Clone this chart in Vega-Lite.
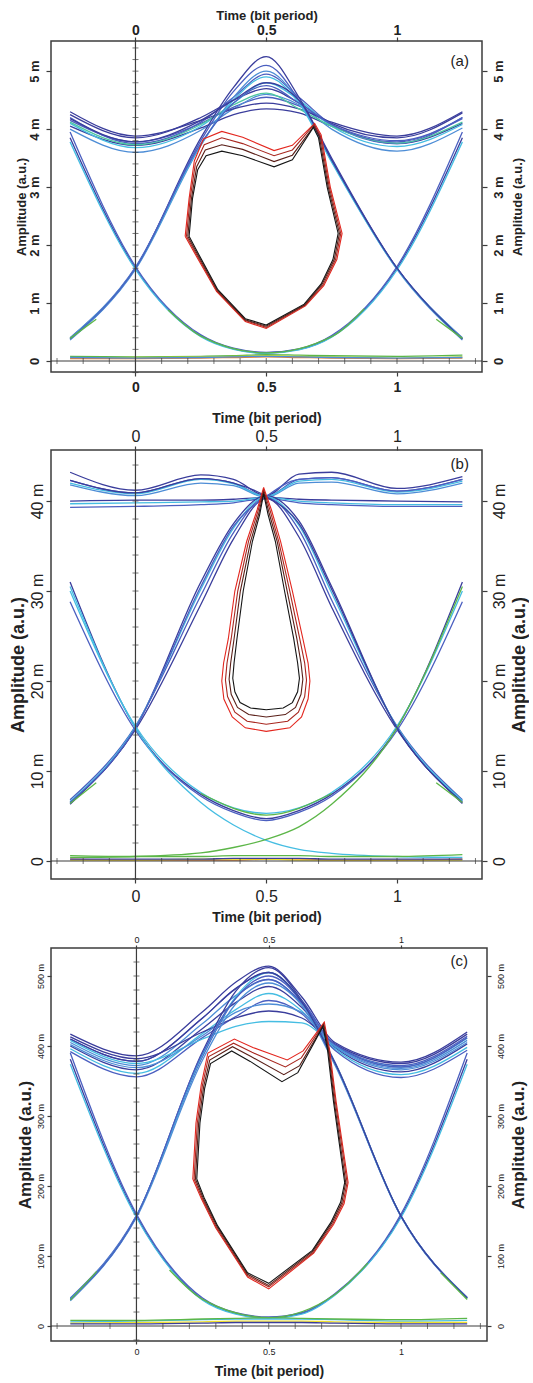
{
"$schema":"https://vega.github.io/schema/vega-lite/v6.json",
"padding":{"left":8,"top":8,"right":0,"bottom":0},
"background":"white",
"config":{"view":{"stroke":"#3c3c3c","strokeWidth":1.5},"font":"Liberation Sans","axis":{"grid":false,"domain":false,"tickColor":"#3c3c3c","tickWidth":1.2,"labelColor":"#222","titleColor":"#222","labelFont":"Liberation Sans","titleFont":"Liberation Sans","titleFontWeight":"bold"}},
"datasets":{
"a":[
{"i":1,"t":-0.25,"v":4.05},{"i":1,"t":0,"v":3.72},{"i":1,"t":0.25,"v":4.02},{"i":1,"t":0.375,"v":4.25},{"i":1,"t":0.5,"v":4.35},{"i":1,"t":0.625,"v":4.28},{"i":1,"t":0.75,"v":4.05},{"i":1,"t":1,"v":3.75},{"i":1,"t":1.25,"v":4.1},
{"i":2,"t":-0.25,"v":4.15},{"i":2,"t":0,"v":3.78},{"i":2,"t":0.25,"v":4.1},{"i":2,"t":0.375,"v":4.38},{"i":2,"t":0.5,"v":4.55},{"i":2,"t":0.625,"v":4.4},{"i":2,"t":0.75,"v":4.08},{"i":2,"t":1,"v":3.8},{"i":2,"t":1.25,"v":4.18},
{"i":3,"t":-0.25,"v":4.25},{"i":3,"t":0,"v":3.85},{"i":3,"t":0.25,"v":4.2},{"i":3,"t":0.375,"v":4.5},{"i":3,"t":0.5,"v":4.7},{"i":3,"t":0.625,"v":4.45},{"i":3,"t":0.75,"v":4.1},{"i":3,"t":1,"v":3.85},{"i":3,"t":1.25,"v":4.28},
{"i":4,"t":-0.25,"v":4.1},{"i":4,"t":0,"v":3.68},{"i":4,"t":0.25,"v":4.05},{"i":4,"t":0.375,"v":4.45},{"i":4,"t":0.5,"v":4.8},{"i":4,"t":0.625,"v":4.5},{"i":4,"t":0.75,"v":4.05},{"i":4,"t":1,"v":3.7},{"i":4,"t":1.25,"v":4.08},
{"i":5,"t":-0.25,"v":4.2},{"i":5,"t":0,"v":3.75},{"i":5,"t":0.25,"v":4.12},{"i":5,"t":0.375,"v":4.55},{"i":5,"t":0.5,"v":4.95},{"i":5,"t":0.625,"v":4.55},{"i":5,"t":0.75,"v":4.08},{"i":5,"t":1,"v":3.75},{"i":5,"t":1.25,"v":4.2},
{"i":6,"t":-0.25,"v":4.0},{"i":6,"t":0,"v":3.6},{"i":6,"t":0.25,"v":3.98},{"i":6,"t":0.375,"v":4.35},{"i":6,"t":0.5,"v":4.6},{"i":6,"t":0.625,"v":4.42},{"i":6,"t":0.75,"v":4.0},{"i":6,"t":1,"v":3.62},{"i":6,"t":1.25,"v":4.02},
{"i":7,"t":-0.25,"v":4.3},{"i":7,"t":0,"v":3.88},{"i":7,"t":0.25,"v":4.15},{"i":7,"t":0.375,"v":4.35},{"i":7,"t":0.5,"v":4.45},{"i":7,"t":0.625,"v":4.35},{"i":7,"t":0.75,"v":4.12},{"i":7,"t":1,"v":3.88},{"i":7,"t":1.25,"v":4.3},
{"i":8,"t":-0.25,"v":4.12},{"i":8,"t":0,"v":3.73},{"i":8,"t":0.25,"v":4.08},{"i":8,"t":0.375,"v":4.42},{"i":8,"t":0.5,"v":4.62},{"i":8,"t":0.625,"v":4.35},{"i":8,"t":0.75,"v":4.05},{"i":8,"t":1,"v":3.76},{"i":8,"t":1.25,"v":4.12},
{"i":9,"t":-0.25,"v":0.38},{"i":9,"t":0,"v":1.6},{"i":9,"t":0.25,"v":3.85},{"i":9,"t":0.375,"v":4.72},{"i":9,"t":0.5,"v":5.25},{"i":9,"t":0.625,"v":4.55},{"i":9,"t":0.75,"v":3.5},{"i":9,"t":1,"v":1.6},{"i":9,"t":1.25,"v":0.38},
{"i":10,"t":-0.25,"v":0.4},{"i":10,"t":0,"v":1.62},{"i":10,"t":0.25,"v":3.8},{"i":10,"t":0.375,"v":4.65},{"i":10,"t":0.5,"v":5.1},{"i":10,"t":0.625,"v":4.5},{"i":10,"t":0.75,"v":3.47},{"i":10,"t":1,"v":1.6},{"i":10,"t":1.25,"v":0.4},
{"i":11,"t":-0.25,"v":0.36},{"i":11,"t":0,"v":1.58},{"i":11,"t":0.25,"v":3.72},{"i":11,"t":0.375,"v":4.55},{"i":11,"t":0.5,"v":5.0},{"i":11,"t":0.625,"v":4.48},{"i":11,"t":0.75,"v":3.45},{"i":11,"t":1,"v":1.58},{"i":11,"t":1.25,"v":0.36},
{"i":12,"t":-0.25,"v":0.39},{"i":12,"t":0,"v":1.6},{"i":12,"t":0.25,"v":3.73},{"i":12,"t":0.375,"v":4.5},{"i":12,"t":0.5,"v":4.9},{"i":12,"t":0.625,"v":4.45},{"i":12,"t":0.75,"v":3.43},{"i":12,"t":1,"v":1.59},{"i":12,"t":1.25,"v":0.39},
{"i":13,"t":-0.25,"v":3.85},{"i":13,"t":0,"v":1.6},{"i":13,"t":0.25,"v":0.43},{"i":13,"t":0.375,"v":0.21},{"i":13,"t":0.5,"v":0.14},{"i":13,"t":0.625,"v":0.2},{"i":13,"t":0.75,"v":0.42},{"i":13,"t":1,"v":1.6},{"i":13,"t":1.25,"v":3.85},
{"i":14,"t":-0.25,"v":3.95},{"i":14,"t":0,"v":1.63},{"i":14,"t":0.25,"v":0.45},{"i":14,"t":0.375,"v":0.22},{"i":14,"t":0.5,"v":0.15},{"i":14,"t":0.625,"v":0.21},{"i":14,"t":0.75,"v":0.44},{"i":14,"t":1,"v":1.63},{"i":14,"t":1.25,"v":3.95},
{"i":15,"t":-0.25,"v":3.78},{"i":15,"t":0,"v":1.58},{"i":15,"t":0.25,"v":0.42},{"i":15,"t":0.375,"v":0.2},{"i":15,"t":0.5,"v":0.13},{"i":15,"t":0.625,"v":0.19},{"i":15,"t":0.75,"v":0.41},{"i":15,"t":1,"v":1.57},{"i":15,"t":1.25,"v":3.78},
{"i":16,"t":-0.25,"v":0.38},{"i":16,"t":0,"v":1.6},{"i":16,"t":0.25,"v":3.75},{"i":16,"t":0.375,"v":4.45},{"i":16,"t":0.5,"v":4.75},{"i":16,"t":0.625,"v":4.45},{"i":16,"t":0.75,"v":4.08},{"i":16,"t":1,"v":3.78},{"i":16,"t":1.25,"v":4.2},
{"i":17,"t":-0.25,"v":4.18},{"i":17,"t":0,"v":3.78},{"i":17,"t":0.25,"v":4.15},{"i":17,"t":0.375,"v":4.5},{"i":17,"t":0.5,"v":4.8},{"i":17,"t":0.625,"v":4.5},{"i":17,"t":0.75,"v":3.47},{"i":17,"t":1,"v":1.6},{"i":17,"t":1.25,"v":0.38},
{"i":18,"t":-0.25,"v":0.08},{"i":18,"t":0,"v":0.07},{"i":18,"t":0.25,"v":0.08},{"i":18,"t":0.375,"v":0.09},{"i":18,"t":0.5,"v":0.11},{"i":18,"t":0.625,"v":0.1},{"i":18,"t":0.75,"v":0.09},{"i":18,"t":1,"v":0.08},{"i":18,"t":1.25,"v":0.1},
{"i":19,"t":-0.25,"v":0.05},{"i":19,"t":0,"v":0.06},{"i":19,"t":0.25,"v":0.07},{"i":19,"t":0.375,"v":0.08},{"i":19,"t":0.5,"v":0.09},{"i":19,"t":0.625,"v":0.08},{"i":19,"t":0.75,"v":0.07},{"i":19,"t":1,"v":0.05},{"i":19,"t":1.25,"v":0.07},
{"i":20,"t":-0.25,"v":0.04},{"i":20,"t":0,"v":0.04},{"i":20,"t":0.25,"v":0.05},{"i":20,"t":0.375,"v":0.06},{"i":20,"t":0.5,"v":0.07},{"i":20,"t":0.625,"v":0.06},{"i":20,"t":0.75,"v":0.05},{"i":20,"t":1,"v":0.04},{"i":20,"t":1.25,"v":0.05},
{"i":21,"t":-0.25,"v":0.06},{"i":21,"t":0,"v":0.05},{"i":21,"t":0.25,"v":0.06},{"i":21,"t":0.375,"v":0.07},{"i":21,"t":0.5,"v":0.08},{"i":21,"t":0.625,"v":0.07},{"i":21,"t":0.75,"v":0.06},{"i":21,"t":1,"v":0.05},{"i":21,"t":1.25,"v":0.06},
{"i":22,"t":0.125,"v":0.88},{"i":22,"t":0.25,"v":0.43},{"i":22,"t":0.5,"v":0.14},{"i":22,"t":0.75,"v":0.42},{"i":22,"t":0.875,"v":0.9},
{"i":23,"t":-0.25,"v":0.39},{"i":23,"t":-0.15,"v":0.72},
{"i":24,"t":1.15,"v":0.72},{"i":24,"t":1.25,"v":0.39}
],
"am":[
{"c":"m0","t":0.19,"v":2.15},{"c":"m0","t":0.205,"v":2.8},{"c":"m0","t":0.225,"v":3.45},{"c":"m0","t":0.26,"v":3.83},{"c":"m0","t":0.33,"v":3.96},{"c":"m0","t":0.41,"v":3.86},{"c":"m0","t":0.53,"v":3.63},{"c":"m0","t":0.6,"v":3.72},{"c":"m0","t":0.685,"v":4.1},{"c":"m0","t":0.71,"v":3.9},{"c":"m0","t":0.745,"v":3.0},{"c":"m0","t":0.79,"v":2.2},{"c":"m0","t":0.77,"v":1.75},{"c":"m0","t":0.72,"v":1.3},{"c":"m0","t":0.65,"v":0.95},{"c":"m0","t":0.5,"v":0.56},{"c":"m0","t":0.42,"v":0.68},{"c":"m0","t":0.31,"v":1.2},{"c":"m0","t":0.24,"v":1.75},{"c":"m0","t":0.19,"v":2.15},
{"c":"m1","t":0.195,"v":2.15},{"c":"m1","t":0.209,"v":2.8},{"c":"m1","t":0.229,"v":3.4},{"c":"m1","t":0.263,"v":3.73},{"c":"m1","t":0.33,"v":3.85},{"c":"m1","t":0.41,"v":3.75},{"c":"m1","t":0.53,"v":3.54},{"c":"m1","t":0.6,"v":3.64},{"c":"m1","t":0.683,"v":4.08},{"c":"m1","t":0.707,"v":3.88},{"c":"m1","t":0.741,"v":3.0},{"c":"m1","t":0.785,"v":2.2},{"c":"m1","t":0.765,"v":1.75},{"c":"m1","t":0.717,"v":1.31},{"c":"m1","t":0.648,"v":0.96},{"c":"m1","t":0.5,"v":0.58},{"c":"m1","t":0.42,"v":0.7},{"c":"m1","t":0.312,"v":1.21},{"c":"m1","t":0.243,"v":1.76},{"c":"m1","t":0.195,"v":2.15},
{"c":"m2","t":0.2,"v":2.15},{"c":"m2","t":0.214,"v":2.8},{"c":"m2","t":0.234,"v":3.35},{"c":"m2","t":0.267,"v":3.64},{"c":"m2","t":0.33,"v":3.73},{"c":"m2","t":0.41,"v":3.65},{"c":"m2","t":0.53,"v":3.44},{"c":"m2","t":0.6,"v":3.55},{"c":"m2","t":0.682,"v":4.05},{"c":"m2","t":0.703,"v":3.87},{"c":"m2","t":0.737,"v":3.0},{"c":"m2","t":0.78,"v":2.2},{"c":"m2","t":0.76,"v":1.75},{"c":"m2","t":0.713,"v":1.32},{"c":"m2","t":0.647,"v":0.97},{"c":"m2","t":0.5,"v":0.6},{"c":"m2","t":0.42,"v":0.71},{"c":"m2","t":0.313,"v":1.22},{"c":"m2","t":0.247,"v":1.76},{"c":"m2","t":0.2,"v":2.15},
{"c":"m4","t":0.205,"v":2.15},{"c":"m4","t":0.218,"v":2.8},{"c":"m4","t":0.238,"v":3.3},{"c":"m4","t":0.27,"v":3.54},{"c":"m4","t":0.33,"v":3.62},{"c":"m4","t":0.41,"v":3.54},{"c":"m4","t":0.53,"v":3.35},{"c":"m4","t":0.6,"v":3.47},{"c":"m4","t":0.68,"v":4.03},{"c":"m4","t":0.7,"v":3.85},{"c":"m4","t":0.733,"v":3.0},{"c":"m4","t":0.775,"v":2.2},{"c":"m4","t":0.755,"v":1.75},{"c":"m4","t":0.71,"v":1.33},{"c":"m4","t":0.645,"v":0.98},{"c":"m4","t":0.5,"v":0.62},{"c":"m4","t":0.42,"v":0.73},{"c":"m4","t":0.315,"v":1.23},{"c":"m4","t":0.25,"v":1.77},{"c":"m4","t":0.205,"v":2.15}
],
"b":[
{"i":1,"t":-0.25,"v":43.2},{"i":1,"t":0,"v":41.2},{"i":1,"t":0.25,"v":42.9},{"i":1,"t":0.375,"v":42.4},{"i":1,"t":0.5,"v":40.6},{"i":1,"t":0.625,"v":43.0},{"i":1,"t":0.75,"v":43.2},{"i":1,"t":1,"v":41.4},{"i":1,"t":1.25,"v":42.7},
{"i":2,"t":-0.25,"v":42.3},{"i":2,"t":0,"v":40.9},{"i":2,"t":0.25,"v":42.5},{"i":2,"t":0.375,"v":42.0},{"i":2,"t":0.5,"v":40.5},{"i":2,"t":0.625,"v":42.4},{"i":2,"t":0.75,"v":42.6},{"i":2,"t":1,"v":41.1},{"i":2,"t":1.25,"v":42.4},
{"i":3,"t":-0.25,"v":41.8},{"i":3,"t":0,"v":40.6},{"i":3,"t":0.25,"v":42.0},{"i":3,"t":0.375,"v":41.7},{"i":3,"t":0.5,"v":40.4},{"i":3,"t":0.625,"v":42.0},{"i":3,"t":0.75,"v":42.1},{"i":3,"t":1,"v":40.8},{"i":3,"t":1.25,"v":42.0},
{"i":4,"t":-0.25,"v":42.0},{"i":4,"t":0,"v":40.8},{"i":4,"t":0.25,"v":42.4},{"i":4,"t":0.375,"v":41.9},{"i":4,"t":0.5,"v":40.5},{"i":4,"t":0.625,"v":42.2},{"i":4,"t":0.75,"v":42.4},{"i":4,"t":1,"v":41.0},{"i":4,"t":1.25,"v":42.2},
{"i":5,"t":-0.25,"v":40.0},{"i":5,"t":0,"v":40.1},{"i":5,"t":0.25,"v":40.1},{"i":5,"t":0.375,"v":40.2},{"i":5,"t":0.5,"v":40.4},{"i":5,"t":0.625,"v":40.2},{"i":5,"t":0.75,"v":40.1},{"i":5,"t":1,"v":40.0},{"i":5,"t":1.25,"v":39.9},
{"i":6,"t":-0.25,"v":39.3},{"i":6,"t":0,"v":39.4},{"i":6,"t":0.25,"v":39.6},{"i":6,"t":0.375,"v":39.8},{"i":6,"t":0.5,"v":40.3},{"i":6,"t":0.625,"v":39.8},{"i":6,"t":0.75,"v":39.6},{"i":6,"t":1,"v":39.4},{"i":6,"t":1.25,"v":39.4},
{"i":7,"t":-0.25,"v":39.7},{"i":7,"t":0,"v":39.8},{"i":7,"t":0.25,"v":39.9},{"i":7,"t":0.375,"v":40.0},{"i":7,"t":0.5,"v":40.4},{"i":7,"t":0.625,"v":40.0},{"i":7,"t":0.75,"v":39.8},{"i":7,"t":1,"v":39.6},{"i":7,"t":1.25,"v":39.6},
{"i":8,"t":-0.25,"v":6.5},{"i":8,"t":0,"v":14.8},{"i":8,"t":0.25,"v":31.0},{"i":8,"t":0.375,"v":37.5},{"i":8,"t":0.5,"v":40.6},{"i":8,"t":0.625,"v":37.8},{"i":8,"t":0.75,"v":30.5},{"i":8,"t":1,"v":14.8},{"i":8,"t":1.25,"v":6.6},
{"i":9,"t":-0.25,"v":6.8},{"i":9,"t":0,"v":15.0},{"i":9,"t":0.25,"v":29.5},{"i":9,"t":0.375,"v":36.5},{"i":9,"t":0.5,"v":40.4},{"i":9,"t":0.625,"v":36.8},{"i":9,"t":0.75,"v":29.0},{"i":9,"t":1,"v":15.0},{"i":9,"t":1.25,"v":6.8},
{"i":10,"t":-0.25,"v":6.3},{"i":10,"t":0,"v":14.6},{"i":10,"t":0.25,"v":28.5},{"i":10,"t":0.375,"v":35.8},{"i":10,"t":0.5,"v":40.3},{"i":10,"t":0.625,"v":36.0},{"i":10,"t":0.75,"v":28.2},{"i":10,"t":1,"v":14.6},{"i":10,"t":1.25,"v":6.4},
{"i":11,"t":-0.25,"v":6.6},{"i":11,"t":0,"v":14.9},{"i":11,"t":0.25,"v":30.2},{"i":11,"t":0.375,"v":37.0},{"i":11,"t":0.5,"v":40.5},{"i":11,"t":0.625,"v":37.3},{"i":11,"t":0.75,"v":29.8},{"i":11,"t":1,"v":14.9},{"i":11,"t":1.25,"v":6.7},
{"i":12,"t":-0.25,"v":31.0},{"i":12,"t":0,"v":14.8},{"i":12,"t":0.25,"v":7.4},{"i":12,"t":0.375,"v":5.6},{"i":12,"t":0.5,"v":4.7},{"i":12,"t":0.625,"v":5.6},{"i":12,"t":0.75,"v":7.4},{"i":12,"t":1,"v":14.8},{"i":12,"t":1.25,"v":31.0},
{"i":13,"t":-0.25,"v":28.8},{"i":13,"t":0,"v":14.5},{"i":13,"t":0.25,"v":7.2},{"i":13,"t":0.375,"v":5.4},{"i":13,"t":0.5,"v":4.5},{"i":13,"t":0.625,"v":5.4},{"i":13,"t":0.75,"v":7.2},{"i":13,"t":1,"v":14.5},{"i":13,"t":1.25,"v":28.8},
{"i":14,"t":-0.25,"v":30.0},{"i":14,"t":0,"v":15.0},{"i":14,"t":0.25,"v":7.6},{"i":14,"t":0.375,"v":5.9},{"i":14,"t":0.5,"v":5.3},{"i":14,"t":0.625,"v":5.9},{"i":14,"t":0.75,"v":7.6},{"i":14,"t":1,"v":15.0},{"i":14,"t":1.25,"v":30.0},
{"i":15,"t":-0.25,"v":30.5},{"i":15,"t":0,"v":14.8},{"i":15,"t":0.25,"v":6.5},{"i":15,"t":0.375,"v":4.0},{"i":15,"t":0.5,"v":2.3},{"i":15,"t":0.625,"v":1.3},{"i":15,"t":0.75,"v":0.85},{"i":15,"t":1,"v":0.5},{"i":15,"t":1.25,"v":0.4},
{"i":16,"t":-0.25,"v":0.4},{"i":16,"t":0,"v":0.5},{"i":16,"t":0.25,"v":0.9},{"i":16,"t":0.375,"v":1.5},{"i":16,"t":0.5,"v":2.4},{"i":16,"t":0.625,"v":3.8},{"i":16,"t":0.75,"v":6.3},{"i":16,"t":1,"v":14.8},{"i":16,"t":1.25,"v":30.5},
{"i":17,"t":-0.25,"v":6.5},{"i":17,"t":0,"v":14.8},{"i":17,"t":0.25,"v":30.5},{"i":17,"t":0.375,"v":37.2},{"i":17,"t":0.5,"v":40.5},{"i":17,"t":0.625,"v":42.4},{"i":17,"t":0.75,"v":42.6},{"i":17,"t":1,"v":41.1},{"i":17,"t":1.25,"v":42.4},
{"i":18,"t":-0.25,"v":42.3},{"i":18,"t":0,"v":40.9},{"i":18,"t":0.25,"v":42.5},{"i":18,"t":0.375,"v":42.0},{"i":18,"t":0.5,"v":40.5},{"i":18,"t":0.625,"v":37.5},{"i":18,"t":0.75,"v":30.2},{"i":18,"t":1,"v":14.8},{"i":18,"t":1.25,"v":6.5},
{"i":19,"t":-0.25,"v":0.6},{"i":19,"t":0,"v":0.5},{"i":19,"t":0.25,"v":0.5},{"i":19,"t":0.375,"v":0.6},{"i":19,"t":0.5,"v":0.6},{"i":19,"t":0.625,"v":0.6},{"i":19,"t":0.75,"v":0.5},{"i":19,"t":1,"v":0.5},{"i":19,"t":1.25,"v":0.7},
{"i":20,"t":-0.25,"v":0.2},{"i":20,"t":0,"v":0.1},{"i":20,"t":0.25,"v":0.1},{"i":20,"t":0.375,"v":0.1},{"i":20,"t":0.5,"v":0.2},{"i":20,"t":0.625,"v":0.2},{"i":20,"t":0.75,"v":0.1},{"i":20,"t":1,"v":0.1},{"i":20,"t":1.25,"v":0.2},
{"i":21,"t":-0.25,"v":0.1},{"i":21,"t":0,"v":0.1},{"i":21,"t":0.25,"v":0.2},{"i":21,"t":0.375,"v":0.2},{"i":21,"t":0.5,"v":0.2},{"i":21,"t":0.625,"v":0.1},{"i":21,"t":0.75,"v":0.1},{"i":21,"t":1,"v":0.1},{"i":21,"t":1.25,"v":0.1},
{"i":22,"t":-0.25,"v":0.2},{"i":22,"t":0,"v":0.2},{"i":22,"t":0.25,"v":0.2},{"i":22,"t":0.375,"v":0.3},{"i":22,"t":0.5,"v":0.3},{"i":22,"t":0.625,"v":0.3},{"i":22,"t":0.75,"v":0.2},{"i":22,"t":1,"v":0.2},{"i":22,"t":1.25,"v":0.2},
{"i":23,"t":-0.25,"v":6.4},{"i":23,"t":-0.15,"v":8.7},
{"i":24,"t":1.15,"v":8.7},{"i":24,"t":1.25,"v":6.5},
{"i":25,"t":0.25,"v":7.5},{"i":25,"t":0.5,"v":5.1},{"i":25,"t":0.75,"v":7.5}
],
"bm":[
{"c":"m0","t":0.49,"v":41.5},{"c":"m0","t":0.52,"v":39.0},{"c":"m0","t":0.555,"v":35.5},{"c":"m0","t":0.6,"v":30.0},{"c":"m0","t":0.64,"v":24.7},{"c":"m0","t":0.66,"v":22.0},{"c":"m0","t":0.667,"v":20.0},{"c":"m0","t":0.66,"v":18.0},{"c":"m0","t":0.635,"v":16.0},{"c":"m0","t":0.59,"v":14.8},{"c":"m0","t":0.5,"v":14.4},{"c":"m0","t":0.42,"v":14.8},{"c":"m0","t":0.37,"v":16.0},{"c":"m0","t":0.338,"v":18.0},{"c":"m0","t":0.33,"v":20.0},{"c":"m0","t":0.337,"v":22.0},{"c":"m0","t":0.355,"v":24.7},{"c":"m0","t":0.38,"v":30.0},{"c":"m0","t":0.425,"v":35.5},{"c":"m0","t":0.465,"v":39.0},{"c":"m0","t":0.49,"v":41.5},
{"c":"m1","t":0.49,"v":41.27},{"c":"m1","t":0.516,"v":38.83},{"c":"m1","t":0.548,"v":35.5},{"c":"m1","t":0.59,"v":30.0},{"c":"m1","t":0.628,"v":24.7},{"c":"m1","t":0.647,"v":22.0},{"c":"m1","t":0.654,"v":20.1},{"c":"m1","t":0.647,"v":18.27},{"c":"m1","t":0.623,"v":16.53},{"c":"m1","t":0.582,"v":15.53},{"c":"m1","t":0.5,"v":15.2},{"c":"m1","t":0.427,"v":15.53},{"c":"m1","t":0.38,"v":16.53},{"c":"m1","t":0.352,"v":18.27},{"c":"m1","t":0.344,"v":20.1},{"c":"m1","t":0.35,"v":22.0},{"c":"m1","t":0.366,"v":24.7},{"c":"m1","t":0.391,"v":30.0},{"c":"m1","t":0.432,"v":35.5},{"c":"m1","t":0.468,"v":38.83},{"c":"m1","t":0.49,"v":41.27},
{"c":"m2","t":0.49,"v":41.03},{"c":"m2","t":0.511,"v":38.67},{"c":"m2","t":0.542,"v":35.5},{"c":"m2","t":0.58,"v":30.0},{"c":"m2","t":0.617,"v":24.7},{"c":"m2","t":0.633,"v":22.0},{"c":"m2","t":0.64,"v":20.2},{"c":"m2","t":0.633,"v":18.53},{"c":"m2","t":0.612,"v":17.07},{"c":"m2","t":0.573,"v":16.27},{"c":"m2","t":0.5,"v":16.0},{"c":"m2","t":0.433,"v":16.27},{"c":"m2","t":0.39,"v":17.07},{"c":"m2","t":0.366,"v":18.53},{"c":"m2","t":0.358,"v":20.2},{"c":"m2","t":0.364,"v":22.0},{"c":"m2","t":0.377,"v":24.7},{"c":"m2","t":0.401,"v":30.0},{"c":"m2","t":0.44,"v":35.5},{"c":"m2","t":0.472,"v":38.67},{"c":"m2","t":0.49,"v":41.03},
{"c":"m4","t":0.49,"v":40.8},{"c":"m4","t":0.507,"v":38.5},{"c":"m4","t":0.535,"v":35.5},{"c":"m4","t":0.57,"v":30.0},{"c":"m4","t":0.605,"v":24.7},{"c":"m4","t":0.62,"v":22.0},{"c":"m4","t":0.627,"v":20.3},{"c":"m4","t":0.62,"v":18.8},{"c":"m4","t":0.6,"v":17.6},{"c":"m4","t":0.565,"v":17.0},{"c":"m4","t":0.5,"v":16.8},{"c":"m4","t":0.44,"v":17.0},{"c":"m4","t":0.4,"v":17.6},{"c":"m4","t":0.38,"v":18.8},{"c":"m4","t":0.372,"v":20.3},{"c":"m4","t":0.377,"v":22.0},{"c":"m4","t":0.388,"v":24.7},{"c":"m4","t":0.412,"v":30.0},{"c":"m4","t":0.447,"v":35.5},{"c":"m4","t":0.475,"v":38.5},{"c":"m4","t":0.49,"v":40.8}
],
"c":[
{"i":1,"t":-0.25,"v":417},{"i":1,"t":0,"v":386},{"i":1,"t":0.25,"v":449},{"i":1,"t":0.375,"v":491},{"i":1,"t":0.5,"v":514},{"i":1,"t":0.625,"v":470},{"i":1,"t":0.75,"v":405},{"i":1,"t":1,"v":377},{"i":1,"t":1.25,"v":420},
{"i":2,"t":-0.25,"v":410},{"i":2,"t":0,"v":378},{"i":2,"t":0.25,"v":440},{"i":2,"t":0.375,"v":482},{"i":2,"t":0.5,"v":505},{"i":2,"t":0.625,"v":465},{"i":2,"t":0.75,"v":402},{"i":2,"t":1,"v":372},{"i":2,"t":1.25,"v":414},
{"i":3,"t":-0.25,"v":405},{"i":3,"t":0,"v":372},{"i":3,"t":0.25,"v":432},{"i":3,"t":0.375,"v":472},{"i":3,"t":0.5,"v":495},{"i":3,"t":0.625,"v":460},{"i":3,"t":0.75,"v":400},{"i":3,"t":1,"v":368},{"i":3,"t":1.25,"v":408},
{"i":4,"t":-0.25,"v":400},{"i":4,"t":0,"v":366},{"i":4,"t":0.25,"v":425},{"i":4,"t":0.375,"v":462},{"i":4,"t":0.5,"v":485},{"i":4,"t":0.625,"v":455},{"i":4,"t":0.75,"v":398},{"i":4,"t":1,"v":363},{"i":4,"t":1.25,"v":403},
{"i":5,"t":-0.25,"v":396},{"i":5,"t":0,"v":361},{"i":5,"t":0.25,"v":418},{"i":5,"t":0.375,"v":452},{"i":5,"t":0.5,"v":475},{"i":5,"t":0.625,"v":450},{"i":5,"t":0.75,"v":396},{"i":5,"t":1,"v":359},{"i":5,"t":1.25,"v":398},
{"i":6,"t":-0.25,"v":392},{"i":6,"t":0,"v":356},{"i":6,"t":0.25,"v":412},{"i":6,"t":0.375,"v":442},{"i":6,"t":0.5,"v":465},{"i":6,"t":0.625,"v":446},{"i":6,"t":0.75,"v":394},{"i":6,"t":1,"v":355},{"i":6,"t":1.25,"v":394},
{"i":7,"t":-0.25,"v":413},{"i":7,"t":0,"v":382},{"i":7,"t":0.25,"v":420},{"i":7,"t":0.375,"v":440},{"i":7,"t":0.5,"v":450},{"i":7,"t":0.625,"v":440},{"i":7,"t":0.75,"v":403},{"i":7,"t":1,"v":375},{"i":7,"t":1.25,"v":417},
{"i":8,"t":-0.25,"v":408},{"i":8,"t":0,"v":375},{"i":8,"t":0.25,"v":410},{"i":8,"t":0.375,"v":428},{"i":8,"t":0.5,"v":435},{"i":8,"t":0.625,"v":433},{"i":8,"t":0.75,"v":400},{"i":8,"t":1,"v":370},{"i":8,"t":1.25,"v":411},
{"i":9,"t":-0.25,"v":402},{"i":9,"t":0,"v":369},{"i":9,"t":0.25,"v":415},{"i":9,"t":0.375,"v":448},{"i":9,"t":0.5,"v":460},{"i":9,"t":0.625,"v":448},{"i":9,"t":0.75,"v":399},{"i":9,"t":1,"v":366},{"i":9,"t":1.25,"v":405},
{"i":10,"t":-0.25,"v":38},{"i":10,"t":0,"v":157},{"i":10,"t":0.25,"v":392},{"i":10,"t":0.375,"v":478},{"i":10,"t":0.5,"v":512},{"i":10,"t":0.625,"v":465},{"i":10,"t":0.75,"v":377},{"i":10,"t":1,"v":157},{"i":10,"t":1.25,"v":40},
{"i":11,"t":-0.25,"v":40},{"i":11,"t":0,"v":158},{"i":11,"t":0.25,"v":385},{"i":11,"t":0.375,"v":468},{"i":11,"t":0.5,"v":500},{"i":11,"t":0.625,"v":462},{"i":11,"t":0.75,"v":375},{"i":11,"t":1,"v":157},{"i":11,"t":1.25,"v":41},
{"i":12,"t":-0.25,"v":36},{"i":12,"t":0,"v":155},{"i":12,"t":0.25,"v":380},{"i":12,"t":0.375,"v":460},{"i":12,"t":0.5,"v":490},{"i":12,"t":0.625,"v":458},{"i":12,"t":0.75,"v":373},{"i":12,"t":1,"v":156},{"i":12,"t":1.25,"v":39},
{"i":13,"t":-0.25,"v":39},{"i":13,"t":0,"v":157},{"i":13,"t":0.25,"v":388},{"i":13,"t":0.375,"v":470},{"i":13,"t":0.5,"v":505},{"i":13,"t":0.625,"v":463},{"i":13,"t":0.75,"v":376},{"i":13,"t":1,"v":157},{"i":13,"t":1.25,"v":40},
{"i":14,"t":-0.25,"v":381},{"i":14,"t":0,"v":157},{"i":14,"t":0.25,"v":38},{"i":14,"t":0.375,"v":18},{"i":14,"t":0.5,"v":12},{"i":14,"t":0.625,"v":18},{"i":14,"t":0.75,"v":45},{"i":14,"t":1,"v":157},{"i":14,"t":1.25,"v":381},
{"i":15,"t":-0.25,"v":390},{"i":15,"t":0,"v":160},{"i":15,"t":0.25,"v":40},{"i":15,"t":0.375,"v":19},{"i":15,"t":0.5,"v":13},{"i":15,"t":0.625,"v":19},{"i":15,"t":0.75,"v":46},{"i":15,"t":1,"v":160},{"i":15,"t":1.25,"v":390},
{"i":16,"t":-0.25,"v":374},{"i":16,"t":0,"v":155},{"i":16,"t":0.25,"v":37},{"i":16,"t":0.375,"v":17},{"i":16,"t":0.5,"v":11},{"i":16,"t":0.625,"v":17},{"i":16,"t":0.75,"v":44},{"i":16,"t":1,"v":155},{"i":16,"t":1.25,"v":374},
{"i":17,"t":-0.25,"v":38},{"i":17,"t":0,"v":157},{"i":17,"t":0.25,"v":390},{"i":17,"t":0.375,"v":468},{"i":17,"t":0.5,"v":495},{"i":17,"t":0.625,"v":462},{"i":17,"t":0.75,"v":402},{"i":17,"t":1,"v":370},{"i":17,"t":1.25,"v":412},
{"i":18,"t":-0.25,"v":410},{"i":18,"t":0,"v":378},{"i":18,"t":0.25,"v":440},{"i":18,"t":0.375,"v":482},{"i":18,"t":0.5,"v":505},{"i":18,"t":0.625,"v":463},{"i":18,"t":0.75,"v":376},{"i":18,"t":1,"v":157},{"i":18,"t":1.25,"v":40},
{"i":19,"t":-0.25,"v":6},{"i":19,"t":0,"v":7},{"i":19,"t":0.25,"v":9},{"i":19,"t":0.375,"v":10},{"i":19,"t":0.5,"v":10},{"i":19,"t":0.625,"v":10},{"i":19,"t":0.75,"v":9},{"i":19,"t":1,"v":7},{"i":19,"t":1.25,"v":8},
{"i":20,"t":-0.25,"v":4},{"i":20,"t":0,"v":5},{"i":20,"t":0.25,"v":6},{"i":20,"t":0.375,"v":7},{"i":20,"t":0.5,"v":7},{"i":20,"t":0.625,"v":7},{"i":20,"t":0.75,"v":6},{"i":20,"t":1,"v":5},{"i":20,"t":1.25,"v":5},
{"i":21,"t":-0.25,"v":8},{"i":21,"t":0,"v":8},{"i":21,"t":0.25,"v":10},{"i":21,"t":0.375,"v":11},{"i":21,"t":0.5,"v":12},{"i":21,"t":0.625,"v":11},{"i":21,"t":0.75,"v":10},{"i":21,"t":1,"v":9},{"i":21,"t":1.25,"v":11},
{"i":22,"t":-0.25,"v":3},{"i":22,"t":0,"v":3},{"i":22,"t":0.25,"v":4},{"i":22,"t":0.375,"v":5},{"i":22,"t":0.5,"v":5},{"i":22,"t":0.625,"v":5},{"i":22,"t":0.75,"v":4},{"i":22,"t":1,"v":3},{"i":22,"t":1.25,"v":3},
{"i":23,"t":0.125,"v":80},{"i":23,"t":0.25,"v":38},{"i":23,"t":0.5,"v":12},{"i":23,"t":0.75,"v":45},{"i":23,"t":0.875,"v":90},
{"i":24,"t":-0.25,"v":37},{"i":24,"t":-0.15,"v":78},
{"i":25,"t":1.15,"v":76},{"i":25,"t":1.25,"v":38}
],
"cm":[
{"c":"m0","t":0.213,"v":210},{"c":"m0","t":0.225,"v":290},{"c":"m0","t":0.245,"v":345},{"c":"m0","t":0.27,"v":390},{"c":"m0","t":0.37,"v":410},{"c":"m0","t":0.44,"v":398},{"c":"m0","t":0.57,"v":380},{"c":"m0","t":0.63,"v":393},{"c":"m0","t":0.71,"v":434},{"c":"m0","t":0.73,"v":395},{"c":"m0","t":0.755,"v":320},{"c":"m0","t":0.8,"v":205},{"c":"m0","t":0.785,"v":175},{"c":"m0","t":0.745,"v":145},{"c":"m0","t":0.67,"v":104},{"c":"m0","t":0.5,"v":53},{"c":"m0","t":0.42,"v":70},{"c":"m0","t":0.3,"v":140},{"c":"m0","t":0.245,"v":182},{"c":"m0","t":0.213,"v":210},
{"c":"m1","t":0.218,"v":210},{"c":"m1","t":0.23,"v":290},{"c":"m1","t":0.249,"v":343},{"c":"m1","t":0.273,"v":385},{"c":"m1","t":0.367,"v":404},{"c":"m1","t":0.437,"v":391},{"c":"m1","t":0.563,"v":370},{"c":"m1","t":0.623,"v":383},{"c":"m1","t":0.708,"v":432},{"c":"m1","t":0.727,"v":395},{"c":"m1","t":0.752,"v":320},{"c":"m1","t":0.796,"v":205},{"c":"m1","t":0.781,"v":176},{"c":"m1","t":0.742,"v":146},{"c":"m1","t":0.668,"v":105},{"c":"m1","t":0.5,"v":56},{"c":"m1","t":0.42,"v":72},{"c":"m1","t":0.302,"v":141},{"c":"m1","t":0.248,"v":183},{"c":"m1","t":0.218,"v":210},
{"c":"m2","t":0.223,"v":210},{"c":"m2","t":0.235,"v":290},{"c":"m2","t":0.254,"v":342},{"c":"m2","t":0.277,"v":380},{"c":"m2","t":0.363,"v":399},{"c":"m2","t":0.433,"v":385},{"c":"m2","t":0.557,"v":359},{"c":"m2","t":0.617,"v":372},{"c":"m2","t":0.707,"v":430},{"c":"m2","t":0.725,"v":395},{"c":"m2","t":0.748,"v":320},{"c":"m2","t":0.791,"v":205},{"c":"m2","t":0.776,"v":176},{"c":"m2","t":0.738,"v":147},{"c":"m2","t":0.667,"v":107},{"c":"m2","t":0.5,"v":58},{"c":"m2","t":0.42,"v":74},{"c":"m2","t":0.305,"v":142},{"c":"m2","t":0.252,"v":183},{"c":"m2","t":0.223,"v":210},
{"c":"m4","t":0.228,"v":210},{"c":"m4","t":0.24,"v":290},{"c":"m4","t":0.258,"v":340},{"c":"m4","t":0.28,"v":375},{"c":"m4","t":0.36,"v":393},{"c":"m4","t":0.43,"v":378},{"c":"m4","t":0.55,"v":349},{"c":"m4","t":0.61,"v":362},{"c":"m4","t":0.705,"v":428},{"c":"m4","t":0.722,"v":395},{"c":"m4","t":0.745,"v":320},{"c":"m4","t":0.787,"v":205},{"c":"m4","t":0.772,"v":177},{"c":"m4","t":0.735,"v":148},{"c":"m4","t":0.665,"v":108},{"c":"m4","t":0.5,"v":61},{"c":"m4","t":0.42,"v":76},{"c":"m4","t":0.307,"v":143},{"c":"m4","t":0.255,"v":184},{"c":"m4","t":0.228,"v":210}
],
"xt":[{"t":-0.3},{"t":-0.2},{"t":-0.1},{"t":0},{"t":0.1},{"t":0.2},{"t":0.3},{"t":0.4},{"t":0.5},{"t":0.6},{"t":0.7},{"t":0.8},{"t":0.9},{"t":1},{"t":1.1},{"t":1.2},{"t":1.3}],
"yta":[{"v":-0.2},{"v":0.2},{"v":0.4},{"v":0.6},{"v":0.8},{"v":1},{"v":1.2},{"v":1.4},{"v":1.6},{"v":1.8},{"v":2},{"v":2.2},{"v":2.4},{"v":2.6},{"v":2.8},{"v":3},{"v":3.2},{"v":3.4},{"v":3.6},{"v":3.8},{"v":4},{"v":4.2},{"v":4.4},{"v":4.6},{"v":4.8},{"v":5},{"v":5.2},{"v":5.4}],
"ytb":[{"v":-2},{"v":2},{"v":4},{"v":6},{"v":8},{"v":10},{"v":12},{"v":14},{"v":16},{"v":18},{"v":20},{"v":22},{"v":24},{"v":26},{"v":28},{"v":30},{"v":32},{"v":34},{"v":36},{"v":38},{"v":40},{"v":42},{"v":44}],
"ytc":[{"v":-20},{"v":20},{"v":40},{"v":60},{"v":80},{"v":100},{"v":120},{"v":140},{"v":160},{"v":180},{"v":200},{"v":220},{"v":240},{"v":260},{"v":280},{"v":300},{"v":320},{"v":340},{"v":360},{"v":380},{"v":400},{"v":420},{"v":440},{"v":460},{"v":480},{"v":500},{"v":520}]
},
"spacing":78,
"bounds":"flush",
"vconcat":[
{
"width":431,"height":331,
"resolve":{"axis":{"x":"independent","y":"independent"}},
"layer":[
{"data":{"name":"a"},
"transform":[{"lookup":"i","from":{"data":{"values":[{"i":1,"k":"db"},{"i":2,"k":"mb"},{"i":3,"k":"db"},{"i":4,"k":"cy"},{"i":5,"k":"mb"},{"i":6,"k":"lb"},{"i":7,"k":"db"},{"i":8,"k":"tg"},{"i":9,"k":"db"},{"i":10,"k":"mb"},{"i":11,"k":"lb"},{"i":12,"k":"cy"},{"i":13,"k":"db"},{"i":14,"k":"mb"},{"i":15,"k":"cy"},{"i":16,"k":"mb"},{"i":17,"k":"db"},{"i":18,"k":"gr"},{"i":19,"k":"yg"},{"i":20,"k":"or"},{"i":21,"k":"lb"},{"i":22,"k":"gr"},{"i":23,"k":"gr"},{"i":24,"k":"gr"}]},"key":"i","fields":["k"]}}],
"mark":{"type":"line","interpolate":"monotone","strokeWidth":1.3},
"encoding":{
"x":{"field":"t","type":"quantitative","scale":{"domain":[-0.323,1.325],"nice":false,"zero":false},"axis":{"orient":"bottom","values":[0,0.5,1],"format":"~g","title":"Time (bit period)","labelFontSize":14,"labelFontWeight":"bold","titleFontSize":14,"tickSize":4,"labelPadding":4,"titlePadding":17}},
"y":{"field":"v","type":"quantitative","scale":{"domain":[-0.19,5.52],"nice":false,"zero":false},"axis":{"orient":"left","values":[0,1,2,3,4,5],"labelExpr":"datum.value == 0 ? '0' : datum.value + ' m'","labelAngle":-90,"labelAlign":"center","labelBaseline":"bottom","labelFontSize":13,"labelFontWeight":"bold","tickSize":5,"labelPadding":5,"title":"Amplitude (a.u.)","titleFontSize":13,"titlePadding":0}},
"detail":{"field":"i"},
"color":{"field":"k","type":"nominal","legend":null,"scale":{"domain":["db","mb","lb","cy","tg","gr","yg","ye","or","m0","m1","m2","m4"],"range":["#3a3d9c","#4b5fc0","#4d8dd6","#45bde2","#4cc7a0","#5cb648","#b5d233","#efe02a","#ee7d2b","#e3261e","#a8271f","#5a1f18","#141414"]}}
}},
{"data":{"name":"am"},
"mark":{"type":"line","strokeWidth":1.1},
"encoding":{
"x":{"field":"t","type":"quantitative","axis":{"orient":"top","values":[0,0.5,1],"format":"~g","title":"Time (bit period)","labelFontSize":14,"labelFontWeight":"bold","titleFontSize":13,"tickSize":4,"labelPadding":0,"titlePadding":1}},
"y":{"field":"v","type":"quantitative","axis":{"orient":"right","values":[0,1,2,3,4,5],"labelExpr":"datum.value == 0 ? '0' : datum.value + ' m'","labelAngle":-90,"labelAlign":"center","labelBaseline":"top","labelFontSize":13,"labelFontWeight":"bold","tickSize":5,"labelPadding":5,"title":"Amplitude (a.u.)","titleFontSize":13,"titleAngle":-90,"titleBaseline":"top","titlePadding":6}},
"color":{"field":"c","type":"nominal","legend":null,"scale":{"domain":["db","mb","lb","cy","tg","gr","yg","ye","or","m0","m1","m2","m4"],"range":["#3a3d9c","#4b5fc0","#4d8dd6","#45bde2","#4cc7a0","#5cb648","#b5d233","#efe02a","#ee7d2b","#e3261e","#a8271f","#5a1f18","#141414"]}},
"order":{"value":null}
}},
{"data":{"values":[{}]},"mark":{"type":"rule","color":"#3c3c3c","strokeWidth":1.2},"encoding":{"y":{"datum":0,"type":"quantitative","axis":null}}},
{"data":{"values":[{}]},"mark":{"type":"rule","color":"#3c3c3c","strokeWidth":1.2},"encoding":{"x":{"datum":0,"type":"quantitative","axis":null}}},
{"data":{"name":"xt"},"mark":{"type":"tick","orient":"vertical","size":6,"thickness":1,"color":"#3c3c3c"},"encoding":{"x":{"field":"t","type":"quantitative","axis":null},"y":{"datum":0,"type":"quantitative","axis":null}}},
{"data":{"name":"yta"},"mark":{"type":"tick","orient":"horizontal","size":6,"thickness":1,"color":"#3c3c3c"},"encoding":{"y":{"field":"v","type":"quantitative","axis":null},"x":{"datum":0,"type":"quantitative","axis":null}}},
{"data":{"values":[{}]},"mark":{"type":"text","text":"(a)","fontSize":15,"font":"Liberation Sans","color":"#222"},"encoding":{"x":{"datum":1.24,"type":"quantitative","axis":null},"y":{"datum":5.17,"type":"quantitative","axis":null}}}
]
},
{
"spacing":69,
"bounds":"flush",
"vconcat":[
{
"width":431,"height":429,
"resolve":{"axis":{"x":"independent","y":"independent"}},
"layer":[
{"data":{"name":"b"},
"transform":[{"lookup":"i","from":{"data":{"values":[{"i":1,"k":"db"},{"i":2,"k":"mb"},{"i":3,"k":"lb"},{"i":4,"k":"cy"},{"i":5,"k":"db"},{"i":6,"k":"mb"},{"i":7,"k":"cy"},{"i":8,"k":"db"},{"i":9,"k":"mb"},{"i":10,"k":"db"},{"i":11,"k":"cy"},{"i":12,"k":"db"},{"i":13,"k":"mb"},{"i":14,"k":"cy"},{"i":15,"k":"cy"},{"i":16,"k":"gr"},{"i":17,"k":"mb"},{"i":18,"k":"db"},{"i":19,"k":"gr"},{"i":20,"k":"or"},{"i":21,"k":"ye"},{"i":22,"k":"db"},{"i":23,"k":"gr"},{"i":24,"k":"gr"},{"i":25,"k":"gr"}]},"key":"i","fields":["k"]}}],
"mark":{"type":"line","interpolate":"monotone","strokeWidth":1.3},
"encoding":{
"x":{"field":"t","type":"quantitative","scale":{"domain":[-0.323,1.325],"nice":false,"zero":false},"axis":{"orient":"bottom","values":[0,0.5,1],"format":"~g","title":"Time (bit period)","labelFontSize":16,"titleFontSize":14,"tickSize":4,"labelPadding":5,"titlePadding":6}},
"y":{"field":"v","type":"quantitative","scale":{"domain":[-2,45.67],"nice":false,"zero":false},"axis":{"orient":"left","values":[0,10,20,30,40],"labelExpr":"datum.value == 0 ? '0' : datum.value + ' m'","labelAngle":-90,"labelAlign":"center","labelBaseline":"bottom","labelFontSize":16,"tickSize":5,"labelPadding":1,"title":"Amplitude (a.u.)","titleFontSize":18,"titlePadding":1.5}},
"detail":{"field":"i"},
"color":{"field":"k","type":"nominal","legend":null,"scale":{"domain":["db","mb","lb","cy","tg","gr","yg","ye","or","m0","m1","m2","m4"],"range":["#3a3d9c","#4b5fc0","#4d8dd6","#45bde2","#4cc7a0","#5cb648","#b5d233","#efe02a","#ee7d2b","#e3261e","#a8271f","#5a1f18","#141414"]}}
}},
{"data":{"name":"bm"},
"mark":{"type":"line","strokeWidth":1.1},
"encoding":{
"x":{"field":"t","type":"quantitative","axis":{"orient":"top","values":[0,0.5,1],"format":"~g","title":null,"labelFontSize":16,"tickSize":4,"labelPadding":2}},
"y":{"field":"v","type":"quantitative","axis":{"orient":"right","values":[0,10,20,30,40],"labelExpr":"datum.value == 0 ? '0' : datum.value + ' m'","labelAngle":-90,"labelAlign":"center","labelBaseline":"top","labelFontSize":16,"tickSize":5,"labelPadding":4,"title":"Amplitude (a.u.)","titleFontSize":18,"titleAngle":-90,"titleBaseline":"top","titlePadding":3}},
"color":{"field":"c","type":"nominal","legend":null,"scale":{"domain":["db","mb","lb","cy","tg","gr","yg","ye","or","m0","m1","m2","m4"],"range":["#3a3d9c","#4b5fc0","#4d8dd6","#45bde2","#4cc7a0","#5cb648","#b5d233","#efe02a","#ee7d2b","#e3261e","#a8271f","#5a1f18","#141414"]}},
"order":{"value":null}
}},
{"data":{"values":[{}]},"mark":{"type":"rule","color":"#3c3c3c","strokeWidth":1.2},"encoding":{"y":{"datum":0,"type":"quantitative","axis":null}}},
{"data":{"values":[{}]},"mark":{"type":"rule","color":"#3c3c3c","strokeWidth":1.2},"encoding":{"x":{"datum":0,"type":"quantitative","axis":null}}},
{"data":{"name":"xt"},"mark":{"type":"tick","orient":"vertical","size":6,"thickness":1,"color":"#3c3c3c"},"encoding":{"x":{"field":"t","type":"quantitative","axis":null},"y":{"datum":0,"type":"quantitative","axis":null}}},
{"data":{"name":"ytb"},"mark":{"type":"tick","orient":"horizontal","size":6,"thickness":1,"color":"#3c3c3c"},"encoding":{"y":{"field":"v","type":"quantitative","axis":null},"x":{"datum":0,"type":"quantitative","axis":null}}},
{"data":{"values":[{}]},"mark":{"type":"text","text":"(b)","fontSize":15,"font":"Liberation Sans","color":"#222"},"encoding":{"x":{"datum":1.24,"type":"quantitative","axis":null},"y":{"datum":44.1,"type":"quantitative","axis":null}}}
]
},
{
"width":436,"height":393,
"resolve":{"axis":{"x":"independent","y":"independent"}},
"layer":[
{"data":{"name":"c"},
"transform":[{"lookup":"i","from":{"data":{"values":[{"i":1,"k":"db"},{"i":2,"k":"mb"},{"i":3,"k":"lb"},{"i":4,"k":"db"},{"i":5,"k":"cy"},{"i":6,"k":"mb"},{"i":7,"k":"db"},{"i":8,"k":"cy"},{"i":9,"k":"lb"},{"i":10,"k":"db"},{"i":11,"k":"mb"},{"i":12,"k":"lb"},{"i":13,"k":"cy"},{"i":14,"k":"db"},{"i":15,"k":"mb"},{"i":16,"k":"cy"},{"i":17,"k":"mb"},{"i":18,"k":"db"},{"i":19,"k":"cy"},{"i":20,"k":"ye"},{"i":21,"k":"gr"},{"i":22,"k":"db"},{"i":23,"k":"gr"},{"i":24,"k":"gr"},{"i":25,"k":"gr"}]},"key":"i","fields":["k"]}}],
"mark":{"type":"line","interpolate":"monotone","strokeWidth":1.3},
"encoding":{
"x":{"field":"t","type":"quantitative","scale":{"domain":[-0.323,1.325],"nice":false,"zero":false},"axis":{"orient":"bottom","values":[0,0.5,1],"format":"~g","title":"Time (bit period)","labelFontSize":9,"titleFontSize":14,"tickSize":3,"labelPadding":3,"titlePadding":8}},
"y":{"field":"v","type":"quantitative","scale":{"domain":[-21.4,540],"nice":false,"zero":false},"axis":{"orient":"left","values":[0,100,200,300,400,500],"labelExpr":"datum.value == 0 ? '0' : datum.value + ' m'","labelAngle":-90,"labelAlign":"center","labelBaseline":"bottom","labelFontSize":9,"tickSize":4,"labelPadding":2,"title":"Amplitude (a.u.)","titleFontSize":17,"titlePadding":2}},
"detail":{"field":"i"},
"color":{"field":"k","type":"nominal","legend":null,"scale":{"domain":["db","mb","lb","cy","tg","gr","yg","ye","or","m0","m1","m2","m4"],"range":["#3a3d9c","#4b5fc0","#4d8dd6","#45bde2","#4cc7a0","#5cb648","#b5d233","#efe02a","#ee7d2b","#e3261e","#a8271f","#5a1f18","#141414"]}}
}},
{"data":{"name":"cm"},
"mark":{"type":"line","strokeWidth":1.1},
"encoding":{
"x":{"field":"t","type":"quantitative","axis":{"orient":"top","values":[0,0.5,1],"format":"~g","title":null,"labelFontSize":9,"tickSize":3,"labelPadding":1}},
"y":{"field":"v","type":"quantitative","axis":{"orient":"right","values":[0,100,200,300,400,500],"labelExpr":"datum.value == 0 ? '0' : datum.value + ' m'","labelAngle":-90,"labelAlign":"center","labelBaseline":"top","labelFontSize":9,"tickSize":4,"labelPadding":5,"title":"Amplitude (a.u.)","titleFontSize":17,"titleAngle":-90,"titleBaseline":"top","titlePadding":5}},
"color":{"field":"c","type":"nominal","legend":null,"scale":{"domain":["db","mb","lb","cy","tg","gr","yg","ye","or","m0","m1","m2","m4"],"range":["#3a3d9c","#4b5fc0","#4d8dd6","#45bde2","#4cc7a0","#5cb648","#b5d233","#efe02a","#ee7d2b","#e3261e","#a8271f","#5a1f18","#141414"]}},
"order":{"value":null}
}},
{"data":{"values":[{}]},"mark":{"type":"rule","color":"#3c3c3c","strokeWidth":1.2},"encoding":{"y":{"datum":0,"type":"quantitative","axis":null}}},
{"data":{"values":[{}]},"mark":{"type":"rule","color":"#3c3c3c","strokeWidth":1.2},"encoding":{"x":{"datum":0,"type":"quantitative","axis":null}}},
{"data":{"name":"xt"},"mark":{"type":"tick","orient":"vertical","size":6,"thickness":1,"color":"#3c3c3c"},"encoding":{"x":{"field":"t","type":"quantitative","axis":null},"y":{"datum":0,"type":"quantitative","axis":null}}},
{"data":{"name":"ytc"},"mark":{"type":"tick","orient":"horizontal","size":6,"thickness":1,"color":"#3c3c3c"},"encoding":{"y":{"field":"v","type":"quantitative","axis":null},"x":{"datum":0,"type":"quantitative","axis":null}}},
{"data":{"values":[{}]},"mark":{"type":"text","text":"(c)","fontSize":15,"font":"Liberation Sans","color":"#222"},"encoding":{"x":{"datum":1.22,"type":"quantitative","axis":null},"y":{"datum":521,"type":"quantitative","axis":null}}}
]
}
]
}
]
}
